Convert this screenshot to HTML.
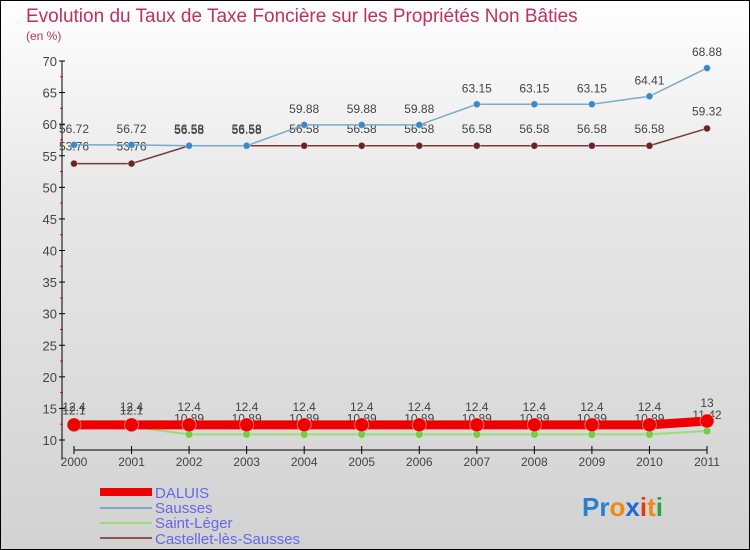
<!DOCTYPE html>
<html><head><meta charset="utf-8"><style>
body{margin:0}
#c{width:750px;height:550px;position:relative;overflow:hidden}
text{font-family:"Liberation Sans",sans-serif}
</style></head><body>
<div id="c">
<svg id="s" width="750" height="550" xmlns="http://www.w3.org/2000/svg">
<defs><linearGradient id="bg" x1="0" y1="0" x2="0" y2="1">
<stop offset="0" stop-color="#ffffff"/><stop offset="0.35" stop-color="#e8e8e8"/><stop offset="1" stop-color="#d2d2d2"/></linearGradient></defs>
<rect x="0.5" y="0.5" width="749" height="549" fill="url(#bg)" stroke="#000"/>
<text x="26" y="22" font-size="19" fill="#c0305f">Evolution du Taux de Taxe Foncière sur les Propriétés Non Bâties</text>
<text x="26" y="40" font-size="12" fill="#c0305f">(en %)</text>
<g id="axes"></g><g id="series"></g>
<g>
<rect x="100" y="488" width="52" height="8" fill="#e00"/>
<text x="155" y="498" font-size="15" fill="#6666ee">DALUIS</text>
<rect x="100" y="507" width="52" height="2" fill="#7aaac8"/>
<text x="155" y="513" font-size="15" fill="#6666ee">Sausses</text>
<rect x="100" y="522" width="52" height="2" fill="#99dd77"/>
<text x="155" y="528" font-size="15" fill="#6666ee">Saint-Léger</text>
<rect x="100" y="537" width="52" height="2" fill="#8a5555"/>
<text x="155" y="544" font-size="15" fill="#6666ee">Castellet-lès-Sausses</text>
</g>
<text x="582" y="516" font-size="26" font-weight="bold" fill="#2a7fd0">Pr<tspan fill="#f08a10">o</tspan><tspan fill="#1e6ad0">x</tspan><tspan fill="#e23a10">i</tspan><tspan fill="#f08a10">t</tspan><tspan fill="#30a040">i</tspan></text>
</svg></div>
<script>
const years=["2000","2001","2002","2003","2004","2005","2006","2007","2008","2009","2010","2011"];
const yTicks=[10,15,20,25,30,35,40,45,50,55,60,65,70];
const daluis=[12.4,12.4,12.4,12.4,12.4,12.4,12.4,12.4,12.4,12.4,12.4,13];
const sausses=[56.72,56.72,56.58,56.58,59.88,59.88,59.88,63.15,63.15,63.15,64.41,68.88];
const saintLeger=[12.1,12.1,10.89,10.89,10.89,10.89,10.89,10.89,10.89,10.89,10.89,11.42];
const castellet=[53.76,53.76,56.58,56.58,56.58,56.58,56.58,56.58,56.58,56.58,56.58,59.32];
const NS="http://www.w3.org/2000/svg";
function X(i){return 74+i*(707-74)/11;}
function Y(v){return 440-(v-10)*(440-61)/60;}
function mk(t,a,p){const e=document.createElementNS(NS,t);for(const k in a)e.setAttribute(k,a[k]);p.appendChild(e);return e;}
const ax=document.getElementById('axes');
const yl=mk('line',{x1:62,y1:Y(70),x2:62,y2:Y(10)+20,stroke:'#000'},ax);


yTicks.forEach(v=>{
 mk('line',{x1:59,y1:Y(v),x2:65,y2:Y(v),stroke:'#000'},ax);
 if(v<70) mk('line',{x1:60,y1:Y(v+2.5),x2:63,y2:Y(v+2.5),stroke:'#e00'},ax);
 const t=mk('text',{x:57,y:Y(v)+5,'font-size':13,fill:'#444','text-anchor':'end'},ax);
 t.textContent=v;
 
 
});
const xl=mk('line',{x1:74,y1:450,x2:707,y2:450,stroke:'#000'},ax);


years.forEach((y,i)=>{
 mk('line',{x1:X(i),y1:446,x2:X(i),y2:454,stroke:'#000'},ax);
 const t=mk('text',{x:X(i),y:466,'font-size':12,fill:'#444','text-anchor':'middle'},ax);
 t.textContent=y;
 
 
});
const sg=document.getElementById('series');
function draw(data,name,color,w,r,fill,dy){
 const g=mk('g',{},sg);
 
 
 const p=mk('polyline',{points:data.map((v,i)=>X(i)+','+Y(v)).join(' '),fill:'none',stroke:color,'stroke-width':w},g);
 
 
 data.forEach((v,i)=>{
  const c=mk('circle',{cx:X(i),cy:Y(v),r:r,fill:fill,stroke:'#fff','stroke-opacity':0.4},g);
  
  
  const t=mk('text',{x:X(i),y:Y(v)+dy,'font-size':12,fill:'#444','text-anchor':'middle'},g);
  t.textContent=v;
  
  
 });
}
draw(castellet,'castellet','#7a3a3a',1.5,3.5,'#6a2222',-13);
draw(sausses,'sausses','#7aaac8',1.5,3.5,'#3a88c8',-12);
draw(saintLeger,'saint-leger','#99dd77',2,4,'#77cc44',-12);
draw(daluis,'daluis','#e00',9,7,'#e00',-14);
</script>
</body></html>
